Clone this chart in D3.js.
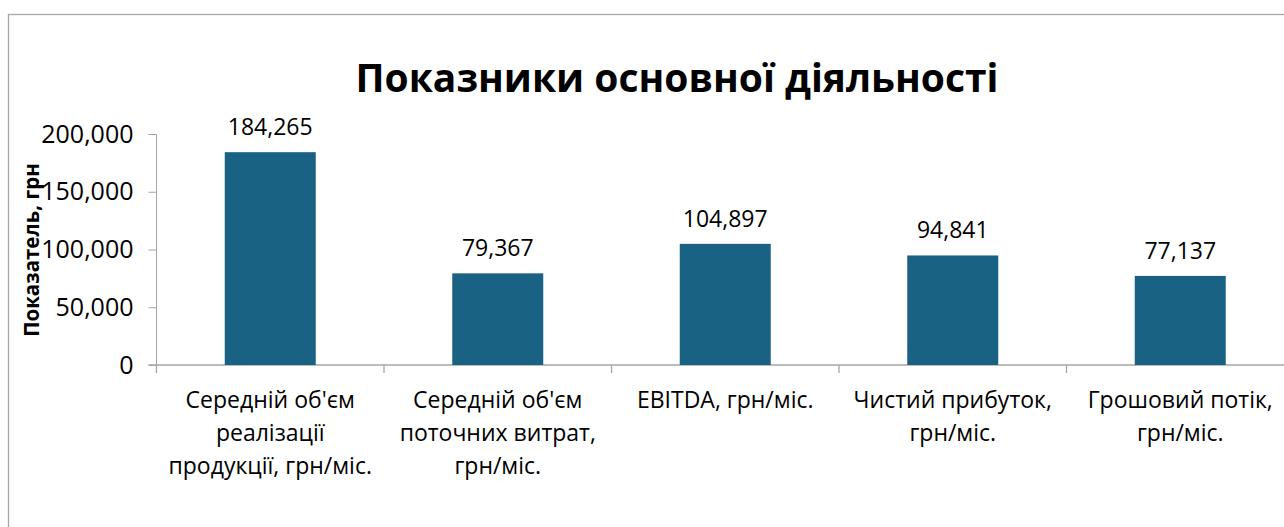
<!DOCTYPE html>
<html><head><meta charset="utf-8">
<script src="https://cdn.jsdelivr.net/npm/d3@7"></script>
<style>html,body{margin:0;padding:0;background:#fff;overflow:hidden}</style>
</head><body>
<script>
const categories = ["Середній об'єм реалізації продукції, грн/міс.", "Середній об'єм поточних витрат, грн/міс.", "EBITDA, грн/міс.", "Чистий прибуток, грн/міс.", "Грошовий потік, грн/міс."];
const categoryLines = [["Середній об'єм","реалізації","продукції, грн/міс."],["Середній об'єм","поточних витрат,","грн/міс."],["EBITDA, грн/міс."],["Чистий прибуток,","грн/міс."],["Грошовий потік,","грн/міс."]];
const values = [184265, 79367, 104897, 94841, 77137];
const yTicks = [0, 50000, 100000, 150000, 200000];
const title = "Показники основної діяльності";
const yTitle = "Показатель, грн";

const W = 1284, H = 527;
const font = "'Open Sans', 'Noto Sans', sans-serif";
const svg = d3.select("body").append("svg").attr("width", W).attr("height", H);

// chart border
svg.append("rect").attr("x", 8.5).attr("y", 14.5).attr("width", 1400).attr("height", 600)
  .attr("fill", "#fff").attr("stroke", "#a6a6a6").attr("stroke-width", 1.3);

const x0 = 156.5, step = 227.5;
const x = d3.scaleBand().domain(categories).range([x0, x0 + step * categories.length])
  .paddingInner(0.6).paddingOuter(0.3);
const y = d3.scaleLinear().domain([0, 200000]).range([365, 134]);

const axisColor = "#a6a6a6";
// y axis
const yAxis = d3.axisLeft(y).tickValues(yTicks).tickFormat(d3.format(",")).tickSize(8).tickPadding(15);
const gy = svg.append("g").attr("transform", `translate(${x0},0)`).call(yAxis);
gy.select(".domain").attr("stroke", axisColor).attr("d", `M-8,${y(200000)}.5H0V${y(0)}`);
gy.selectAll(".tick line").attr("stroke", axisColor);
gy.selectAll(".tick text").attr("font-family", font).attr("font-size", 25).attr("fill", "#000");

// x axis line
svg.append("line").attr("x1", x0 - 8).attr("x2", x0 + step * 6).attr("y1", y(0)).attr("y2", y(0))
  .attr("stroke", axisColor).attr("stroke-width", 1.3);
// category boundary ticks
const bounds = categories.map(c => x(c) - x.step() * x.paddingOuter());
bounds.push(bounds[bounds.length - 1] + x.step());
svg.selectAll(".xtick").data(bounds).join("line").attr("class", "xtick")
  .attr("x1", d => d).attr("x2", d => d).attr("y1", y(0)).attr("y2", y(0) + 8)
  .attr("stroke", axisColor).attr("stroke-width", 1.3);

// bars
svg.selectAll(".bar").data(values).join("rect").attr("class", "bar")
  .attr("x", (d, i) => x(categories[i])).attr("width", x.bandwidth())
  .attr("y", d => y(d)).attr("height", d => y(0) - y(d)).attr("fill", "#1a6284");

// value labels
svg.selectAll(".val").data(values).join("text").attr("class", "val")
  .attr("x", (d, i) => x(categories[i]) + x.bandwidth() / 2).attr("y", d => y(d) - 17)
  .attr("text-anchor", "middle").attr("font-family", font).attr("font-size", 23).attr("fill", "#000")
  .text(d => d3.format(",")(d));

// category labels
categories.forEach((c, i) => {
  const t = svg.append("text").attr("text-anchor", "middle").attr("font-family", font)
    .attr("font-size", 23).attr("fill", "#000");
  categoryLines[i].forEach((ln, j) => {
    t.append("tspan").attr("x", x(c) + x.bandwidth() / 2).attr("y", 408 + j * 33).text(ln);
  });
});

// title
svg.append("text").attr("x", 677).attr("y", 92).attr("text-anchor", "middle")
  .attr("font-family", font).attr("font-weight", "bold").attr("font-size", 39).attr("fill", "#000").text(title);

// y title
svg.append("text").attr("transform", "translate(39,250) rotate(-90)").attr("text-anchor", "middle")
  .attr("font-family", font).attr("font-weight", "bold").attr("font-size", 20.5).attr("fill", "#000").text(yTitle);
</script>
</body></html>
